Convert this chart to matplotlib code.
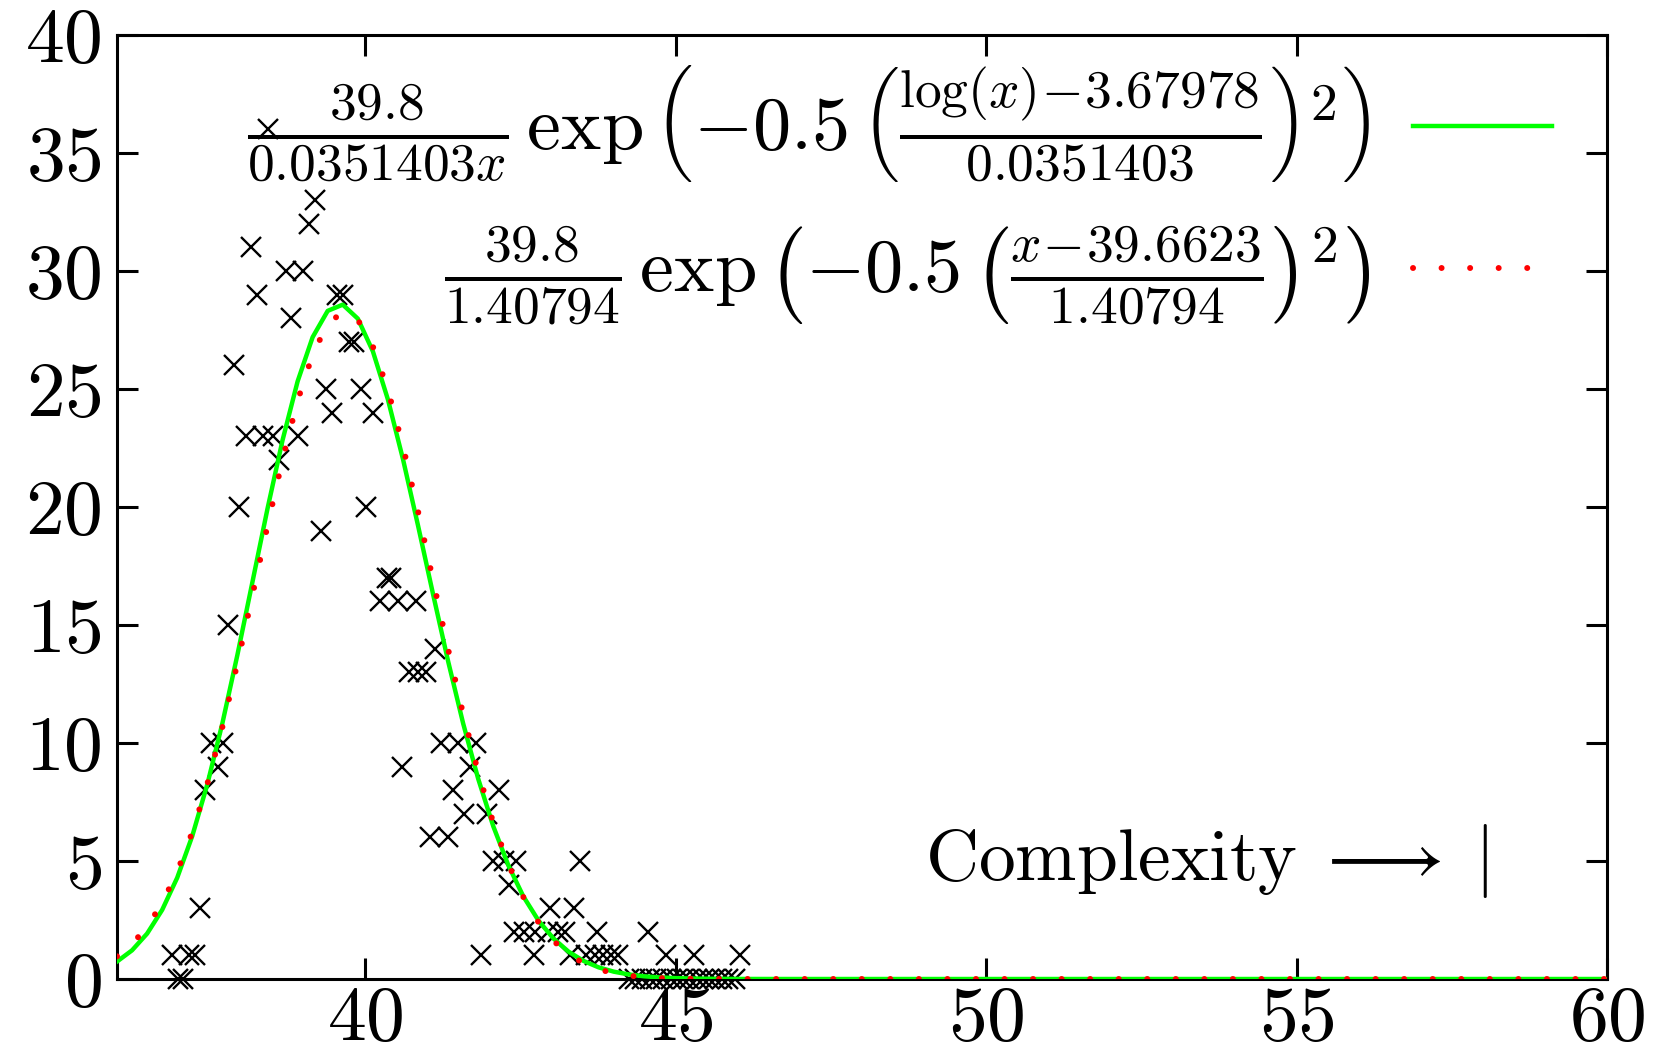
import numpy as np
import matplotlib
matplotlib.use("Agg")
import matplotlib.pyplot as plt

# ---------------- data ----------------
data_x = [36.88, 36.98, 37.06, 37.16, 37.25, 37.33, 37.42, 37.51, 37.62, 37.70,
          37.78, 37.89, 37.97, 38.08, 38.16, 38.25, 38.35, 38.43, 38.51, 38.61,
          38.72, 38.80, 38.91, 38.99, 39.09, 39.19, 39.28, 39.37, 39.46, 39.55,
          39.64, 39.74, 39.82, 39.93, 40.01, 40.12, 40.24, 40.35, 40.41, 40.53,
          40.59, 40.71, 40.82, 40.85, 40.98, 41.04, 41.12, 41.22, 41.33, 41.41,
          41.49, 41.59, 41.68, 41.79, 41.87, 41.96, 42.05, 42.15, 42.24, 42.32,
          42.40, 42.43, 42.56, 42.71, 42.73, 42.94, 42.98, 43.10, 43.21, 43.29,
          43.36, 43.45, 43.55, 43.70, 43.73, 43.83, 43.95, 44.07, 44.25, 44.35,
          44.45, 44.56, 44.58, 44.68, 44.80, 44.85, 44.92, 45.02, 45.12, 45.22,
          45.30, 45.34, 45.44, 45.54, 45.64, 45.74, 45.84, 45.95, 46.04]
data_y = [1, 0, 0, 1, 1, 3, 8, 10, 9, 10,
          15, 26, 20, 23, 31, 29, 23, 36, 23, 22,
          30, 28, 23, 30, 32, 33, 19, 25, 24, 29,
          29, 27, 27, 25, 20, 24, 16, 17, 17, 16,
          9, 13, 16, 13, 13, 6, 14, 10, 6, 8,
          10, 7, 9, 10, 1, 7, 5, 8, 5, 4,
          2, 5, 2, 1, 2, 2, 3, 2, 2, 1,
          3, 5, 1, 1, 2, 1, 1, 1, 0, 0,
          0, 2, 0, 0, 0, 1, 0, 0, 0, 0,
          1, 0, 0, 0, 0, 0, 0, 0, 1]

# fitted parameters shown in the key
amplitude = 39.8
lognorm_mu = 3.67978
lognorm_sigma = 0.0351403
gauss_mu = 39.6623
gauss_sigma = 1.40794

x_range = (36, 60)
y_range = (0, 40)
x_ticks = [40, 45, 50, 55, 60]
y_ticks = [0, 5, 10, 15, 20, 25, 30, 35, 40]

label_lognorm = (r'$\frac{39.8}{0.0351403x}\,\exp\left(-0.5\,\left('
                 r'\frac{\log(x)\!-\!3.67978}{0.0351403}\right)^2\right)$')
label_gauss = (r'$\frac{39.8}{1.40794}\,\exp\left(-0.5\,\left('
               r'\frac{x\!-\!39.6623}{1.40794}\right)^2\right)$')
xlabel_text = r'$\mathrm{Complexity}\;\longrightarrow\;|$'

# ---------------- style ----------------
plt.rcParams['font.family'] = ['cmr10', 'DejaVu Serif']
plt.rcParams['mathtext.fontset'] = 'cm'
plt.rcParams['axes.formatter.use_mathtext'] = True
TICK_FS = 56
KEY_FS = 55
LABEL_FS = 53

fig = plt.figure(figsize=(16.79, 10.52), dpi=100)
ax = fig.add_axes([117/1679, 1-979/1052, 1490/1679, 944/1052])

# sampled functions (gnuplot default 100 samples)
xs = np.linspace(x_range[0], x_range[1], 100)
f_lognorm = amplitude / (lognorm_sigma * xs) * np.exp(-0.5 * ((np.log(xs) - lognorm_mu) / lognorm_sigma) ** 2)
f_gauss = amplitude / gauss_sigma * np.exp(-0.5 * ((xs - gauss_mu) / gauss_sigma) ** 2)

ax.plot(data_x, data_y, linestyle='none', marker='x', markersize=15,
        markeredgewidth=1.7, color='black', clip_on=False, zorder=2)
l1, = ax.plot(xs, f_lognorm, color='#00ff00', lw=3.2, label=label_lognorm, zorder=3)
l2, = ax.plot(xs, f_gauss, color='#ff0000', lw=4.3, linestyle=(0, (0.01, 4.77)),
              dash_capstyle='round', label=label_gauss, zorder=4)

ax.set_xlim(*x_range)
ax.set_ylim(*y_range)
ax.set_xticks(x_ticks)
ax.set_yticks(y_ticks)
ax.tick_params(which='major', direction='in', length=15, width=2.2,
               top=True, right=True, labelsize=TICK_FS)
ax.tick_params(axis='x', pad=5)
ax.tick_params(axis='y', pad=11)
for s in ax.spines.values():
    s.set_linewidth(2.2)

key_kw = dict(loc='center right', markerfirst=False, frameon=False,
              fontsize=KEY_FS, handlelength=1.82, handleheight=0.5,
              handletextpad=0.55, borderaxespad=0.0, borderpad=0.0)
leg1 = ax.legend(handles=[l1], bbox_to_anchor=(0.963, 0.9057), **key_kw)
ax.add_artist(leg1)
leg2 = ax.legend(handles=[l2], bbox_to_anchor=(0.963, 0.7447), **key_kw)

ax.text(0.920, 0.105, xlabel_text, transform=ax.transAxes, ha='right',
        va='baseline', fontsize=LABEL_FS)

fig.savefig('out.png', dpi=100)
